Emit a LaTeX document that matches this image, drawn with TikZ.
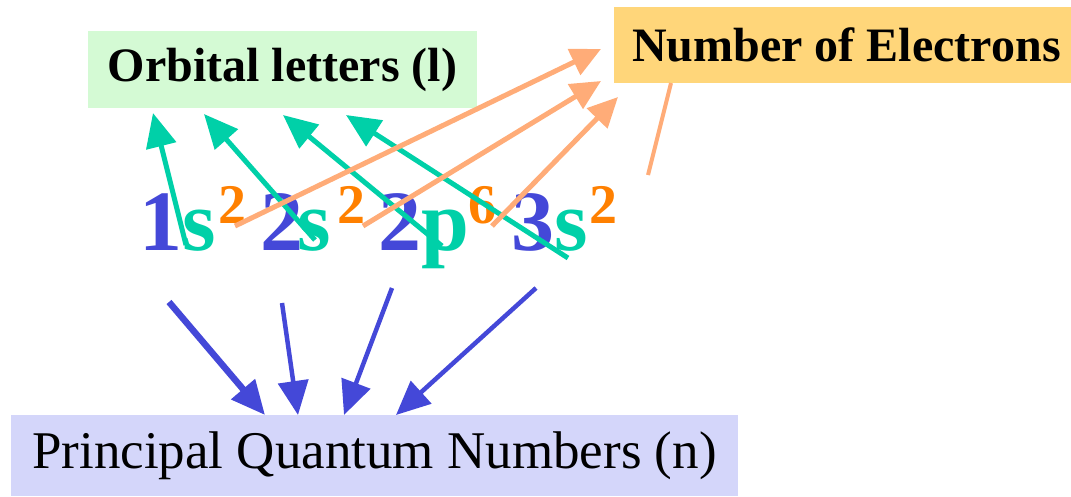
\documentclass[tikz,border=0pt]{standalone}
\usepackage{fontspec}
\setmainfont{Liberation Serif}[BoldFont={Liberation Serif Bold}]
\usetikzlibrary{arrows.meta}
\definecolor{nblue}{RGB}{68,72,216}
\definecolor{lteal}{RGB}{0,208,168}
\definecolor{eorange}{RGB}{255,128,0}
\definecolor{arrorange}{RGB}{255,172,120}
\definecolor{greenbox}{RGB}{212,250,212}
\definecolor{bluebox}{RGB}{212,214,250}
\definecolor{yellowbox}{RGB}{255,214,122}
\tikzset{
  box/.style={inner sep=0pt, text=black},
  big/.style={anchor=base west, inner sep=0pt, font=\fontsize{86}{90}\selectfont\bfseries},
  sup/.style={anchor=base west, inner sep=0pt, font=\fontsize{56}{60}\selectfont\bfseries, text=eorange},
  tealarr/.style={draw=lteal, line width=5pt, -{Triangle[length=34pt,width=30pt]}},
  orarr/.style={draw=arrorange, line width=5pt, -{Triangle[length=30pt,width=28pt]}},
  bluarr/.style={draw=nblue, line width=4.5pt, -{Triangle[length=34pt,width=30pt]}},
}
\begin{document}
\begin{tikzpicture}[x=1pt,y=-1pt]
\useasboundingbox (0,0) rectangle (1071,496);
% boxes
\node[box, fill=greenbox, minimum width=389pt, minimum height=77pt,
  font=\fontsize{48}{52}\selectfont\bfseries] (orb) at (282.5,69.5) {Orbital letters (l)};
\node[box, fill=yellowbox, minimum width=457pt, minimum height=76pt,
  font=\fontsize{48}{52}\selectfont\bfseries] (num) at (842.5,45) {\hspace*{8pt}Number of Electrons};
\node[box, fill=bluebox, minimum width=727pt, minimum height=81pt,
  font=\fontsize{53}{57}\selectfont] (pqn) at (374.5,455.5) {Principal Quantum Numbers (n)};
% formula glyphs
\node[big, text=nblue] (n1) at (139,250) {1};
\node[big, text=lteal] (l1) at (182,250) {s};
\node[sup] (e1) at (218,223) {2};
\node[big, text=nblue] (n2) at (260,250) {2};
\node[big, text=lteal] (l2) at (297,250) {s};
\node[sup] (e2) at (337,223) {2};
\node[big, text=nblue] (n3) at (378,250) {2};
\node[big, text=lteal] (l3) at (421,250) {p};
\node[sup] (e3) at (468,223) {6};
\node[big, text=nblue] (n4) at (511,250) {3};
\node[big, text=lteal] (l4) at (554,250) {s};
\node[sup] (e4) at (589,223) {2};
% arrow end coordinates
\coordinate (ta1) at (186,245);
\coordinate (ta2) at (315,240);
\coordinate (ta3) at (442,246);
\coordinate (ta4) at (568,258);
\coordinate (ha1) at (153,113);
\coordinate (ha2) at (204,114);
\coordinate (ha3) at (283,115);
\coordinate (ha4) at (346,115);
\coordinate (tb1) at (235,226);
\coordinate (tb2) at (363,226);
\coordinate (tb3) at (492,226);
\coordinate (hb1) at (601,49);
\coordinate (hb2) at (601,81);
\coordinate (hb3) at (618,97);
\coordinate (b4s) at (671,83);
\coordinate (b4e) at (648,175);
\coordinate (tc1) at (169,302);
\coordinate (tc2) at (282,303);
\coordinate (tc3) at (392,288);
\coordinate (tc4) at (536,288);
\coordinate (hc1) at (265,415);
\coordinate (hc2) at (298,415);
\coordinate (hc3) at (344,415);
\coordinate (hc4) at (396,415);
% teal arrows to orbital letters
\draw[tealarr] (ta1) -- (ha1);
\draw[tealarr] (ta2) -- (ha2);
\draw[tealarr] (ta3) -- (ha3);
\draw[tealarr] (ta4) -- (ha4);
% orange arrows to number of electrons
\draw[orarr] (tb1) -- (hb1);
\draw[orarr] (tb2) -- (hb2);
\draw[orarr] (tb3) -- (hb3);
\draw[draw=arrorange, line width=4pt] (b4s) -- (b4e);
% blue arrows to principal quantum numbers
\draw[bluarr, line width=6.5pt] (tc1) -- (hc1);
\draw[bluarr] (tc2) -- (hc2);
\draw[bluarr] (tc3) -- (hc3);
\draw[bluarr] (tc4) -- (hc4);
\end{tikzpicture}
\end{document}
